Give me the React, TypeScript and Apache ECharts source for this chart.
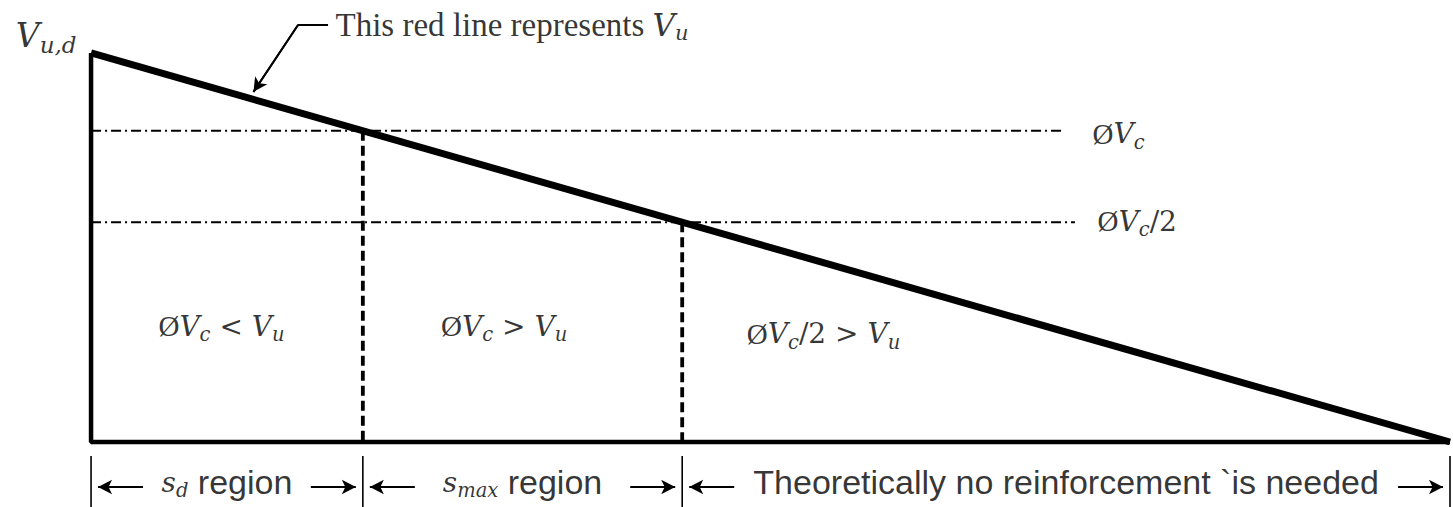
import React, { useEffect, useRef } from 'react';
import * as echarts from 'echarts';

// ---- data (normalised: distance along span in %, shear in % of V_u,d) ----
const spanDistance = [0, 100];
const shearValues = [100, 0]; // V_u,d at the support, falling to 0
const capacityLevels = [80, 56.5]; // ØVc, ØVc/2
const capacityLineEnds = [71.67, 72.4];
const regionBounds = [0, 20, 43.5, 100]; // s_d | s_max | no reinforcement
const capacityLabels = ['{r|Ø}{m|V}{s|c}', '{r|Ø}{m|V}{s|c}{o|/2}'];
const capacityLabelX = [73.66, 74.03];
const capacityLabelY = [79.2, 56.7];
const zoneLabels = [
  '{r|Ø}{m|V}{s|c}{o| < }{m|V}{s|u}',
  '{r|Ø}{m|V}{s|c}{o| > }{m|V}{s|u}',
  '{r|Ø}{m|V}{s|c}{o|/2 > }{m|V}{s|u}',
];
const zoneLabelX = [9.6, 30.4, 53.9];
const zoneLabelY = [29.8, 29.8, 27.8];
const regionLabels = [
  '{m|s}{s|d}{t| region}',
  '{m|s}{s|max}{t| region}',
  '{t|Theoretically no reinforcement `is needed}',
];
const topLabel = '{bm|V}{bs|u,d}';
const noteLabel = '{n|This red line represents }{nm|V}{ns|u}';
const leaderPoints = [
  [11.95, 90.0],
  [15.23, 107.19],
  [17.44, 107.19],
];

// ---- layout ----
const W = 1453;
const H = 507;
const X_MIN = -6.7;
const X_MAX = 100.22;
const Y_MIN = -16.71;
const Y_MAX = 113.62;
const PX_X = W / (X_MAX - X_MIN);
const DIM_Y = -11.57;
const DIM_LABEL_Y = -10.3;
const TICK_TOP = -3.6;
const ARROW_PX = 52;
const ARROW_HEAD = 14;

const BLACK = '#000';
const MATH = "'DejaVu Serif', serif";
const SLASH = "'Liberation Serif', serif";

const rich: any = {
  m: { fontFamily: MATH, fontStyle: 'italic', fontSize: 28, lineHeight: 34, color: BLACK },
  r: { fontFamily: SLASH, fontSize: 29, lineHeight: 34, color: BLACK },
  o: { fontFamily: MATH, fontSize: 28, lineHeight: 34, color: BLACK },
  s: { fontFamily: MATH, fontStyle: 'italic', fontSize: 19.5, lineHeight: 34, padding: [17, 0, 0, 0], color: BLACK },
  t: { fontFamily: "'Liberation Sans', Arial, sans-serif", fontSize: 34, lineHeight: 34, color: BLACK },
  bm: { fontFamily: MATH, fontStyle: 'italic', fontSize: 33, lineHeight: 38, color: BLACK },
  bs: { fontFamily: MATH, fontStyle: 'italic', fontSize: 23, lineHeight: 38, padding: [19, 0, 0, 0], color: BLACK },
  n: { fontFamily: SLASH, fontSize: 33, lineHeight: 38, color: BLACK },
  nm: { fontFamily: MATH, fontStyle: 'italic', fontSize: 31, lineHeight: 38, color: BLACK },
  ns: { fontFamily: MATH, fontStyle: 'italic', fontSize: 21, lineHeight: 38, padding: [17, 0, 0, 0], color: BLACK },
};

function lineSeries(data: number[][], lineStyle: any, z = 2): any {
  return {
    type: 'line',
    data,
    symbol: 'none',
    silent: true,
    z,
    lineStyle: { color: BLACK, ...lineStyle },
  };
}

function buildOption(): any {
  const vud = shearValues[0];
  const spanEnd = spanDistance[1];
  const series: any[] = [];

  // frame: support face and base line
  series.push(lineSeries([[spanDistance[0], vud], [spanDistance[0], 0], [spanEnd, 0]], { width: 4.5 }, 3));
  // V_u line
  series.push(lineSeries([[spanDistance[0], shearValues[0]], [spanDistance[1], shearValues[1]]], { width: 7 }, 4));
  // capacity dash-dot levels
  capacityLevels.forEach((lv, i) => {
    series.push(lineSeries([[0, lv], [capacityLineEnds[i], lv]], { width: 2, type: [10, 4, 2, 4] }, 2));
  });
  // region boundaries (dashed verticals up to the capacity level)
  [1, 2].forEach((bi, i) => {
    series.push(lineSeries([[regionBounds[bi], capacityLevels[i]], [regionBounds[bi], 0]], { width: 3.8, type: [10, 5] }, 2));
  });
  // dimension ticks
  regionBounds.forEach((b) => {
    series.push(lineSeries([[b, TICK_TOP], [b, Y_MIN]], { width: 1.6 }, 2));
  });
  // leader line to V_u
  series.push(lineSeries(leaderPoints, { width: 2 }, 2));

  // arrows (dimension arrows and leader arrowhead)
  const arrowLen = ARROW_PX / PX_X;
  const inset = ARROW_HEAD / 2 / PX_X;
  const markData: any[] = [];
  for (let i = 0; i < regionBounds.length - 1; i++) {
    const a = regionBounds[i];
    const b = regionBounds[i + 1];
    markData.push([{ coord: [a + arrowLen, DIM_Y] }, { coord: [a + inset, DIM_Y] }]);
    markData.push([{ coord: [b - arrowLen, DIM_Y] }, { coord: [b - inset, DIM_Y] }]);
  }
  markData.push([{ coord: leaderPoints[1] }, { coord: leaderPoints[0] }]);

  series.push({
    type: 'line',
    data: [],
    symbol: 'none',
    silent: true,
    markLine: {
      silent: true,
      symbol: ['none', 'arrow'],
      symbolSize: [11, ARROW_HEAD],
      label: { show: false },
      lineStyle: { color: BLACK, width: 1.8, type: 'solid' },
      emphasis: { disabled: true },
      data: markData,
    },
  });

  // text labels
  const labelItems: any[] = [];
  labelItems.push({ value: [-1.03, 104.62], label: { formatter: topLabel, position: 'left', distance: 0 } });
  labelItems.push({ value: [17.95, 107.2], label: { formatter: noteLabel, position: 'right', distance: 0 } });
  capacityLabels.forEach((t, i) => {
    labelItems.push({ value: [capacityLabelX[i], capacityLabelY[i]], label: { formatter: t, position: 'right', distance: 0 } });
  });
  zoneLabels.forEach((t, i) => {
    labelItems.push({ value: [zoneLabelX[i], zoneLabelY[i]], label: { formatter: t, position: 'inside' } });
  });
  regionLabels.forEach((t, i) => {
    const cx = (regionBounds[i] + regionBounds[i + 1]) / 2;
    labelItems.push({ value: [cx, DIM_LABEL_Y], label: { formatter: t, position: 'inside' } });
  });

  series.push({
    type: 'scatter',
    symbolSize: 1,
    silent: true,
    itemStyle: { color: 'rgba(0,0,0,0)' },
    label: { show: true, color: BLACK, rich },
    data: labelItems,
    z: 5,
  });

  return {
    animation: false,
    backgroundColor: '#fff',
    grid: { left: 0, right: 0, top: 0, bottom: 0 },
    xAxis: { type: 'value', min: X_MIN, max: X_MAX, show: false },
    yAxis: { type: 'value', min: Y_MIN, max: Y_MAX, show: false },
    series,
  };
}

export default function App() {
  const ref = useRef<HTMLDivElement>(null);
  useEffect(() => {
    if (!ref.current) return;
    const chart = echarts.init(ref.current, null, { renderer: 'svg' });
    chart.setOption(buildOption());
    return () => chart.dispose();
  }, []);
  return (
    <div
      ref={ref}
      style={{ position: 'fixed', left: 0, top: 0, width: W, height: H, background: '#fff' }}
    />
  );
}
